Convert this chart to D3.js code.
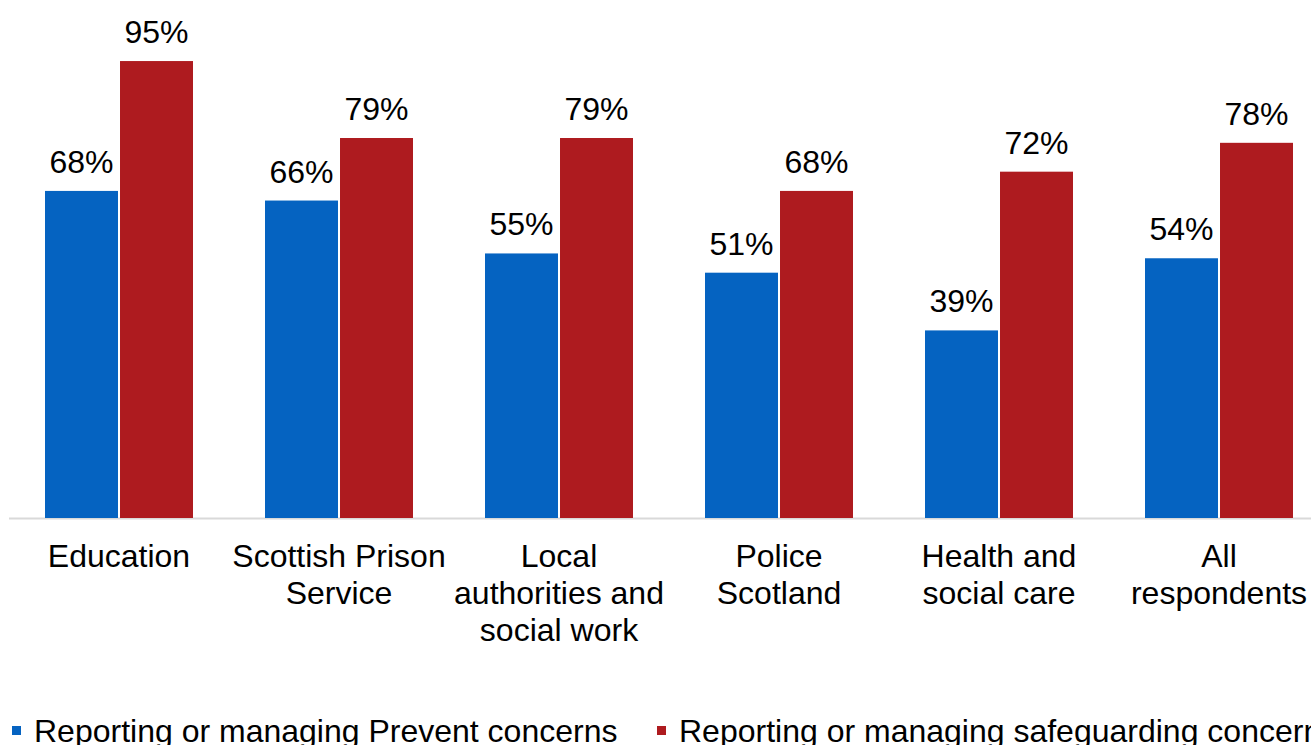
<!DOCTYPE html>
<html>
<head>
<meta charset="utf-8">
<script src="https://cdn.jsdelivr.net/npm/d3@7"></script>
<style>
  html, body { margin: 0; padding: 0; background: #fff; overflow: hidden; }
  svg { display: block; font-family: "Liberation Sans", Arial, sans-serif; }
</style>
</head>
<body>
<div id="chart"></div>
<script>
const categories = ["Education", "Scottish Prison Service", "Local authorities and social work", "Police Scotland", "Health and social care", "All respondents"];
const categoryLines = [["Education"], ["Scottish Prison", "Service"], ["Local", "authorities and", "social work"], ["Police", "Scotland"], ["Health and", "social care"], ["All", "respondents"]];
const seriesNames = ["Reporting or managing Prevent concerns", "Reporting or managing safeguarding concerns"];
const preventValues = [68, 66, 55, 51, 39, 54];
const safeguardingValues = [95, 79, 79, 68, 72, 78];
const colors = ["#0563c1", "#ae1b1f"];

const w = 1311, h = 745;
const margin = {top: 37, left: 9, bottom: 227};
const bandW = 220;
const svg = d3.select("#chart").append("svg").attr("width", w).attr("height", h);

const x0 = d3.scaleBand().domain(categories).range([margin.left, margin.left + bandW * categories.length]).padding(0);
const x1 = d3.scaleBand().domain([0, 1]).range([36, 184]).paddingInner(0.027);
const y = d3.scaleLinear().domain([0, 100]).range([h - margin.bottom, margin.top]);

const rows = categories.map((c, i) => ({cat: c, vals: [preventValues[i], safeguardingValues[i]]}));

// baseline
svg.append("line")
  .attr("x1", margin.left).attr("x2", w)
  .attr("y1", y(0) + 0.5).attr("y2", y(0) + 0.5)
  .attr("stroke", "#d9d9d9").attr("stroke-width", 2);

const groups = svg.selectAll("g.grp").data(rows).join("g")
  .attr("class", "grp")
  .attr("transform", d => `translate(${x0(d.cat)},0)`);

groups.selectAll("rect").data(d => d.vals).join("rect")
  .attr("x", (d, i) => x1(i))
  .attr("y", d => y(d))
  .attr("width", x1.bandwidth())
  .attr("height", d => y(0) - y(d))
  .attr("fill", (d, i) => colors[i]);

groups.selectAll("text.val").data(d => d.vals).join("text")
  .attr("class", "val")
  .attr("x", (d, i) => x1(i) + x1.bandwidth() / 2)
  .attr("y", d => y(d) - 18)
  .attr("text-anchor", "middle")
  .style("font-size", "32px").style("fill", "#000")
  .text(d => d + "%");

// category labels
categories.forEach((c, i) => {
  const t = svg.append("text")
    .attr("x", x0(c) + bandW / 2)
    .attr("y", 567)
    .attr("text-anchor", "middle")
    .style("font-size", "32px").style("fill", "#000");
  categoryLines[i].forEach((ln, j) => {
    t.append("tspan").attr("x", x0(c) + bandW / 2).attr("dy", j === 0 ? 0 : 37).text(ln);
  });
});

// legend
const legendX = [12, 657];
seriesNames.forEach((s, i) => {
  svg.append("rect").attr("x", legendX[i]).attr("y", 726).attr("width", 9).attr("height", 9).attr("fill", colors[i]);
  svg.append("text").attr("x", legendX[i] + 22).attr("y", 742)
    .style("font-size", "32px").style("fill", "#000").text(s);
});
</script>
</body>
</html>
